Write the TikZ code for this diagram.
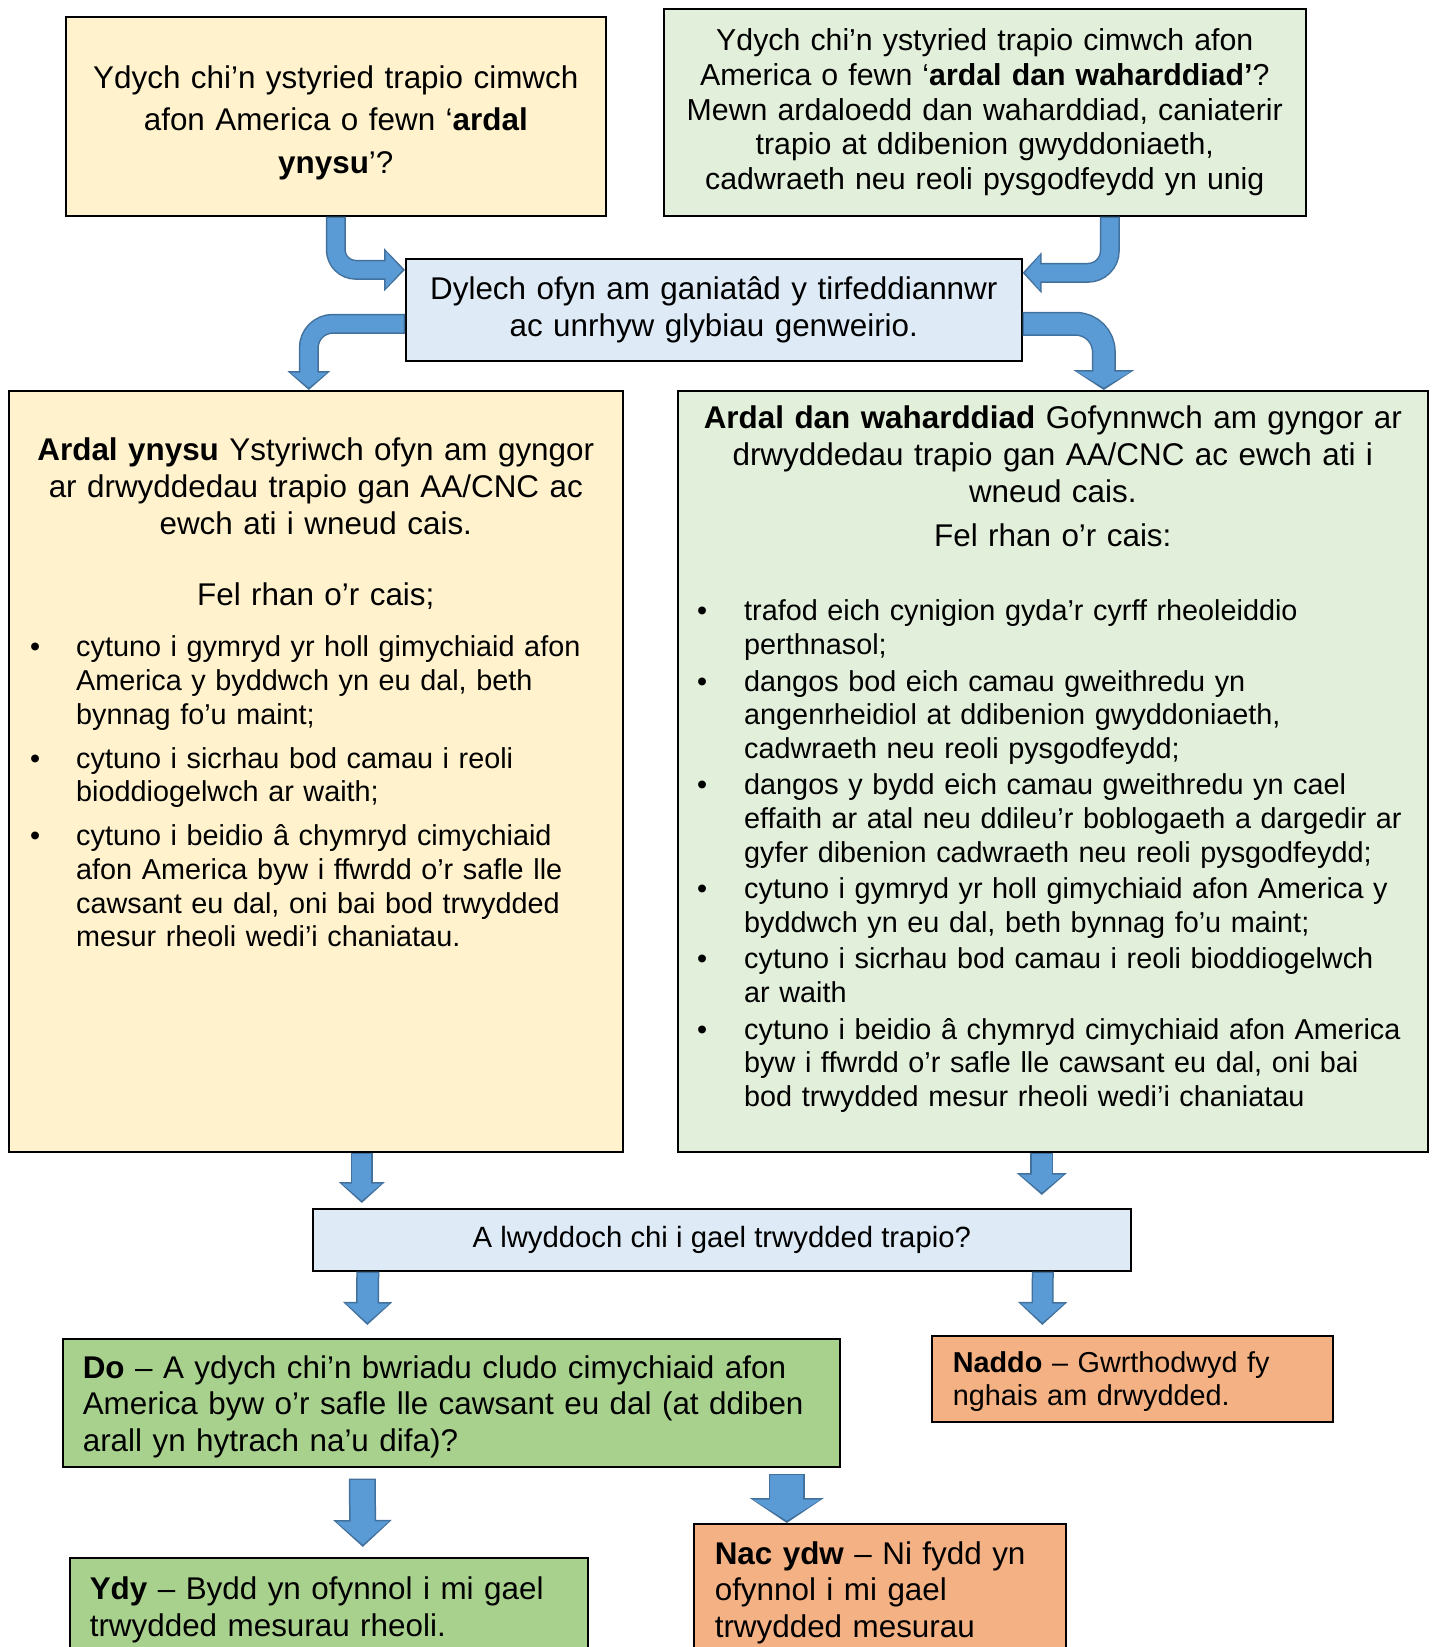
\documentclass[tikz,border=0pt]{standalone}
\usepackage{fontspec}
\setmainfont{Liberation Sans}
\usetikzlibrary{arrows.meta}
\definecolor{paleyellow}{HTML}{FFF2CC}
\definecolor{palegreen}{HTML}{E2EFDA}
\definecolor{paleblue}{HTML}{DEEBF7}
\definecolor{leafgreen}{HTML}{A9D18E}
\definecolor{peach}{HTML}{F4B183}
\definecolor{arrowfill}{HTML}{5B9BD5}
\definecolor{arrowedge}{HTML}{41719C}
% bullet list used inside the two big boxes
\newenvironment{pointlist}[2]{\begin{list}{\textbullet}{%
    \setlength{\leftmargin}{#2}\setlength{\labelwidth}{#2}%
    \setlength{\labelsep}{0pt}\setlength{\itemsep}{#1}%
    \setlength{\topsep}{0pt}\setlength{\parsep}{0pt}%
    \setlength{\partopsep}{0pt}\setlength{\itemindent}{0pt}%
    \renewcommand{\makelabel}[1]{##1\hfil}}}{\end{list}}

\begin{document}
\begin{tikzpicture}[x=1pt, y=-1pt,
% common options for boxes:
box/.style = {draw, line width=1.6pt, rectangle, anchor=north west, inner sep=0},
bigtext/.style = {font=\fontsize{31.4}{36.8}\selectfont},
smalltext/.style = {font=\fontsize{28.8}{33.6}\selectfont},
% common options for the block arrows (shaft, head width, head length):
blk/.style n args = {3}{draw=arrowfill, line width=#1pt-3pt,
            shorten >=2.5pt, shorten <=1.5pt,
            -{Triangle[width=#2pt-6pt, length=#3pt-4pt]},
            preaction={draw=arrowedge, line width=#1pt, shorten >=0pt, shorten <=0pt,
            -{Triangle[width=#2pt, length=#3pt]}}}]
\path[use as bounding box, fill=white] (0,0) rectangle (1434,1647);
\clip (0,0) rectangle (1434,1647);
% top questions
\node[box, fill=paleyellow, minimum width=540, minimum height=199, text width=525pt,
      align=center, text depth=79pt, font=\fontsize{31.4}{42.5}\selectfont] (T1) at (65,16)
  {Ydych chi’n ystyried trapio cimwch\\ afon America o fewn ‘\textbf{ardal}\\ \textbf{ynysu}’?};
\node[box, fill=palegreen, minimum width=642, minimum height=207, text width=620pt,
      align=center, font=\fontsize{30.3}{34.7}\selectfont] (T2) at (663,8)
  {Ydych chi’n ystyried trapio cimwch afon\\ America o fewn ‘\textbf{ardal dan waharddiad’}?\\
   Mewn ardaloedd dan waharddiad, caniaterir\\ trapio at ddibenion gwyddoniaeth,\\
   cadwraeth neu reoli pysgodfeydd yn unig};
\node[box, bigtext, fill=paleblue, minimum width=616, minimum height=102, text width=600pt,
      align=center] (M0) at (405,258)
  {Dylech ofyn am ganiatâd y tirfeddiannwr\\ ac unrhyw glybiau genweirio.};
% the two application boxes
\node[box, fill=paleyellow, minimum width=614, minimum height=761] (L1) at (8,390) {};
\node[box, fill=palegreen, minimum width=750, minimum height=761] (R1) at (677,390) {};
\node[bigtext, anchor=north, text width=600pt, align=center, inner sep=0] (L1h)
  at ([yshift=-48pt]L1.north)
  {\textbf{Ardal ynysu} Ystyriwch ofyn am gyngor\\ ar drwyddedau trapio gan AA/CNC ac\\
   ewch ati i wneud cais.\\[33.7pt] Fel rhan o’r cais;};
\node[smalltext, anchor=north west, text width=575pt, align=left, inner sep=0] (L1b)
  at ([xshift=22pt, yshift=-233pt]L1.north west)
  {\begin{pointlist}{10.5pt}{46pt}
   \item cytuno i gymryd yr holl gimychiaid afon\newline America y byddwch yn eu dal, beth\newline bynnag fo’u maint;
   \item cytuno i sicrhau bod camau i reoli\newline bioddiogelwch ar waith;
   \item cytuno i beidio â chymryd cimychiaid\newline afon America byw i ffwrdd o’r safle lle\newline
         cawsant eu dal, oni bai bod trwydded\newline mesur rheoli wedi’i chaniatau.
   \end{pointlist}};
\node[bigtext, anchor=north, text width=740pt, align=center, inner sep=0] (R1h)
  at ([yshift=-16pt]R1.north)
  {\textbf{Ardal dan waharddiad} Gofynnwch am gyngor ar\\ drwyddedau trapio gan AA/CNC ac ewch ati i\\
   wneud cais.\\[7.2pt] Fel rhan o’r cais:};
\node[smalltext, anchor=north west, text width=725pt, align=left, inner sep=0] (R1b)
  at ([xshift=20pt, yshift=-197pt]R1.north west)
  {\begin{pointlist}{3pt}{47pt}
   \item trafod eich cynigion gyda’r cyrff rheoleiddio\newline perthnasol;
   \item dangos bod eich camau gweithredu yn\newline angenrheidiol at ddibenion gwyddoniaeth,\newline
         cadwraeth neu reoli pysgodfeydd;
   \item dangos y bydd eich camau gweithredu yn cael\newline effaith ar atal neu ddileu’r boblogaeth a dargedir ar\newline
         gyfer dibenion cadwraeth neu reoli pysgodfeydd;
   \item cytuno i gymryd yr holl gimychiaid afon America y\newline byddwch yn eu dal, beth bynnag fo’u maint;
   \item cytuno i sicrhau bod camau i reoli bioddiogelwch\newline ar waith
   \item cytuno i beidio â chymryd cimychiaid afon America\newline byw i ffwrdd o’r safle lle cawsant eu dal, oni bai\newline
         bod trwydded mesur rheoli wedi’i chaniatau
   \end{pointlist}};
% outcome
\node[box, font=\fontsize{29.3}{33.6}\selectfont, fill=paleblue, minimum width=818, minimum height=62] (Q0) at (312,1208)
  {A lwyddoch chi i gael trwydded trapio?};
\node[box, bigtext, fill=leafgreen, minimum width=777, minimum height=128, text width=737pt,
      inner xsep=20pt, align=left, text depth=72.2pt] (L2) at (62,1338)
  {\textbf{Do} – A ydych chi’n bwriadu cludo cimychiaid afon\\ America byw o’r safle lle cawsant eu dal (at ddiben\\
   arall yn hytrach na’u difa)?};
\node[box, fill=peach, minimum width=401, minimum height=86, text width=359pt,
      inner xsep=21pt, align=left, text depth=32.7pt, font=\fontsize{28.8}{32.6}\selectfont] (R2) at (931,1335)
  {\textbf{Naddo} – Gwrthodwyd fy\\ nghais am drwydded.};
\node[box, bigtext, fill=leafgreen, minimum width=518, minimum height=104, text width=478pt,
      inner xsep=20pt, align=left] (L3) at (69,1557)
  {\textbf{Ydy} – Bydd yn ofynnol i mi gael\\ trwydded mesurau rheoli.};
\node[box, bigtext, fill=peach, minimum width=372, minimum height=138, text width=330pt,
      inner xsep=21pt, align=left] (R3) at (693,1523)
  {\textbf{Nac ydw} – Ni fydd yn\\ ofynnol i mi gael\\ trwydded mesurau};
% block arrows
\draw[blk={20}{42}{21}, rounded corners=20pt] (T1.south) |- ([yshift=40pt]M0.west);
\draw[blk={20}{40}{19}, rounded corners=22pt] ([xshift=125pt]T2.south) |- ([yshift=37pt]M0.east);
\draw[blk={20}{42}{19}, rounded corners=24pt] ([yshift=-14pt]M0.west) -| ([xshift=-7pt]L1.north);
\draw[blk={24}{60}{20}, rounded corners=28pt] ([yshift=-14pt]M0.east) -| ([xshift=51pt]R1.north);
\draw[blk={22}{45}{21}] ([xshift=46pt]L1.south) -- ([xshift=-360pt, yshift=5pt]Q0.north);
\draw[blk={23}{49}{22}] ([xshift=-11pt]R1.south) -- ([xshift=320pt, yshift=13pt]Q0.north);
\draw[blk={23}{48}{23}] ([xshift=-354pt]Q0.south) -- ([xshift=-84pt, yshift=13pt]L2.north);
\draw[blk={22}{48}{23}] ([xshift=321pt]Q0.south) -- ([xshift=-90pt, yshift=10pt]R2.north);
\draw[blk={27}{57}{27}] ([xshift=-89pt, yshift=-11pt]L2.south) -- ([xshift=34pt, yshift=10pt]L3.north);
\draw[blk={36}{73}{25}] ([xshift=335.5pt, yshift=-6pt]L2.south) -- ([xshift=-93pt]R3.north);
\end{tikzpicture}
\end{document}
